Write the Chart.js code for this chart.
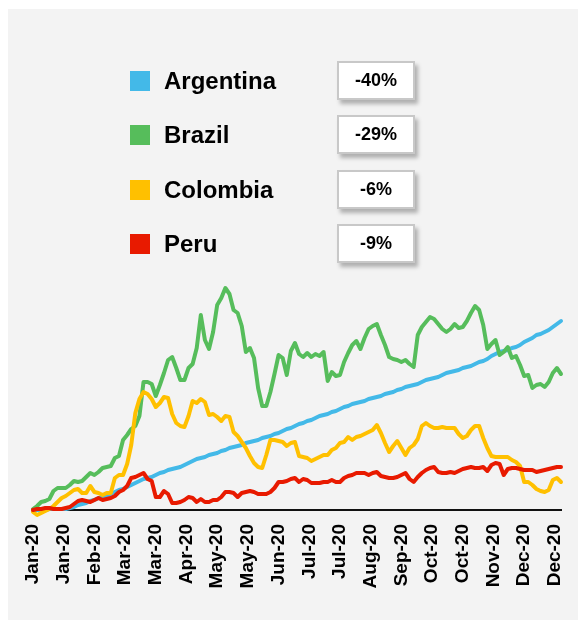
<!DOCTYPE html>
<html>
<head>
<meta charset="utf-8">
<script src="https://cdn.jsdelivr.net/npm/chart.js@4.4.1/dist/chart.umd.min.js"></script>
<style>
  html, body { margin: 0; padding: 0; background: #ffffff; }
  #wrap { position: relative; width: 578px; height: 620px; overflow: hidden; font-family: "Liberation Sans", Arial, sans-serif; }
  #panel { position: absolute; left: 8px; top: 9px; width: 570px; height: 611px; background: #f3f3f3; }
  #chart { position: absolute; left: 0; top: 0; }
  .sq { position: absolute; left: 130px; width: 20px; height: 20px; }
  .name { position: absolute; left: 164px; font-size: 24px; font-weight: bold; color: #000; line-height: 28px; }
  .box { position: absolute; left: 337px; width: 74px; height: 35px; background: #fff; border: 2px solid #c8c8c8;
         box-shadow: 3px 4px 4px rgba(0,0,0,0.28); font-size: 18px; font-weight: bold; color: #000;
         text-align: center; line-height: 35px; }
</style>
</head>
<body>
<div id="wrap">
  <div id="panel"></div>
  <canvas id="chart" width="578" height="620"></canvas>
  <div id="legend"></div>
</div>
<script>
// legend rows
const countries = ['Argentina', 'Brazil', 'Colombia', 'Peru'];
const changes = ['-40%', '-29%', '-6%', '-9%'];
const colors = ['#43b9e8', '#56bd5b', '#ffc000', '#e81a00'];

// x axis labels, one every 15 trading days
const tickLabels = ['Jan-20', 'Jan-20', 'Feb-20', 'Mar-20', 'Mar-20', 'Apr-20', 'May-20', 'May-20', 'Jun-20',
  'Jul-20', 'Jul-20', 'Aug-20', 'Sep-20', 'Oct-20', 'Oct-20', 'Nov-20', 'Dec-20', 'Dec-20'];
const tickEvery = 15;
const sampleStep = 2; // values below are read every 2 trading days

const argentina = [0, 0, 0, 0, 1, 1, 1, 1, 1, 2, 3, 5, 6, 7, 9, 10, 12, 13, 14, 16,
  18, 20, 21, 23, 25, 27, 29, 31, 32, 33, 35, 37, 38, 40, 41, 42, 43, 45, 47, 49,
  51, 52, 53, 55, 56, 57, 59, 60, 62, 63, 64, 65, 67, 68, 69, 70, 72, 73, 74, 76,
  77, 79, 81, 82, 84, 86, 87, 89, 90, 92, 94, 95, 96, 98, 99, 101, 103, 104, 106, 107,
  108, 109, 111, 112, 113, 114, 116, 117, 118, 120, 121, 123, 124, 125, 126, 128, 130, 131, 132, 133,
  135, 137, 138, 139, 140, 142, 143, 144, 146, 148, 149, 151, 154, 156, 158, 159, 160, 162, 163, 165,
  168, 170, 172, 175, 176, 178, 180, 183, 186, 189];

const brazil = [1, 4, 8, 9, 11, 19, 22, 22, 22, 25, 29, 28, 29, 33, 37, 35, 38, 42, 43, 44,
  52, 54, 70, 75, 81, 84, 94, 128, 128, 126, 114, 125, 137, 150, 153, 142, 130, 130, 142, 146,
  162, 195, 170, 161, 178, 205, 212, 222, 216, 200, 197, 184, 158, 162, 152, 122, 104, 104, 118, 136,
  155, 152, 135, 159, 167, 156, 153, 157, 153, 156, 154, 158, 129, 138, 134, 135, 148, 157, 165, 169,
  161, 172, 181, 184, 186, 175, 165, 153, 151, 150, 148, 150, 146, 143, 175, 183, 188, 193, 191, 186,
  181, 178, 181, 186, 182, 183, 189, 197, 204, 200, 185, 161, 166, 170, 155, 158, 163, 152, 154, 145,
  134, 135, 122, 125, 126, 123, 128, 137, 142, 136];

const colombia = [-2, -5, -3, -1, 1, 4, 8, 12, 14, 17, 20, 21, 17, 17, 24, 18, 17, 15, 17, 17,
  32, 35, 35, 46, 65, 97, 111, 118, 116, 111, 103, 107, 113, 112, 96, 87, 84, 83, 94, 109,
  107, 111, 108, 95, 96, 93, 89, 94, 93, 78, 74, 68, 62, 54, 47, 43, 42, 55, 70, 70,
  69, 68, 64, 67, 68, 54, 53, 52, 49, 51, 53, 55, 55, 60, 62, 67, 68, 73, 70, 73,
  74, 76, 78, 80, 85, 77, 67, 58, 64, 69, 62, 55, 62, 65, 71, 84, 87, 84, 82, 82,
  83, 82, 82, 82, 76, 72, 74, 80, 84, 84, 72, 62, 54, 53, 53, 53, 53, 50, 48, 44,
  28, 28, 25, 21, 19, 18, 20, 30, 32, 28];

const peru = [0, 1, 1, 2, 2, 1, 1, 1, 2, 3, 6, 9, 10, 9, 8, 10, 12, 10, 11, 12,
  14, 18, 20, 24, 32, 33, 35, 37, 31, 29, 13, 13, 19, 16, 7, 7, 8, 10, 13, 12,
  8, 11, 8, 8, 10, 10, 13, 18, 18, 17, 13, 17, 18, 19, 18, 16, 16, 16, 18, 22,
  28, 28, 29, 31, 32, 28, 31, 30, 27, 27, 27, 28, 28, 30, 28, 28, 32, 34, 35, 37,
  37, 37, 35, 37, 38, 34, 33, 32, 32, 33, 35, 37, 31, 28, 33, 37, 40, 42, 43, 38,
  37, 37, 38, 37, 39, 41, 42, 43, 42, 42, 43, 39, 45, 47, 46, 35, 41, 42, 42, 41,
  40, 40, 40, 38, 39, 40, 41, 42, 43, 43];

const seriesValues = [argentina, brazil, colombia, peru];

// legend + change boxes as html text
const legend = document.getElementById('legend');
countries.forEach((name, i) => {
  const rowTop = 71 + i * 54.3;
  legend.insertAdjacentHTML('beforeend', `
    <div class="sq" style="top:${rowTop}px;background:${colors[i]}"></div>
    <div class="name" style="top:${rowTop - 4}px">${name}</div>
    <div class="box" style="top:${rowTop - 10}px">${changes[i]}</div>
  `);
});

const lastIndex = (argentina.length - 1) * sampleStep;

new Chart(document.getElementById('chart'), {
  type: 'line',
  data: {
    datasets: countries.map((name, i) => ({
      label: name,
      data: seriesValues[i].map((v, j) => ({ x: j * sampleStep, y: v })),
      borderColor: colors[i],
      backgroundColor: colors[i],
      borderWidth: 4,
      pointRadius: 0,
      tension: 0,
      borderJoinStyle: 'round',
      borderCapStyle: 'round',
      clip: false,
      order: countries.length - i
    }))
  },
  options: {
    responsive: false,
    animation: false,
    devicePixelRatio: 1,
    layout: { padding: { left: 33, right: 17, top: 270, bottom: 0 } },
    plugins: { legend: { display: false }, tooltip: { enabled: false } },
    scales: {
      x: {
        type: 'linear',
        min: 0,
        max: lastIndex,
        afterBuildTicks: (s) => { s.ticks = tickLabels.map((_, i) => ({ value: i * tickEvery })); },
        afterFit: (s) => { s.height = 110; s.paddingLeft = 0; s.paddingRight = 0; },
        grid: { display: false },
        border: { display: true, color: '#111', width: 2 },
        ticks: {
          autoSkip: false,
          minRotation: 90,
          maxRotation: 90,
          padding: 6,
          color: '#000',
          font: { family: 'Liberation Sans', size: 19, weight: 'bold' },
          callback: (v) => tickLabels[Math.round(v / tickEvery)]
        }
      },
      y: {
        display: false,
        min: 0,
        max: 240
      }
    }
  }
});
</script>
</body>
</html>
